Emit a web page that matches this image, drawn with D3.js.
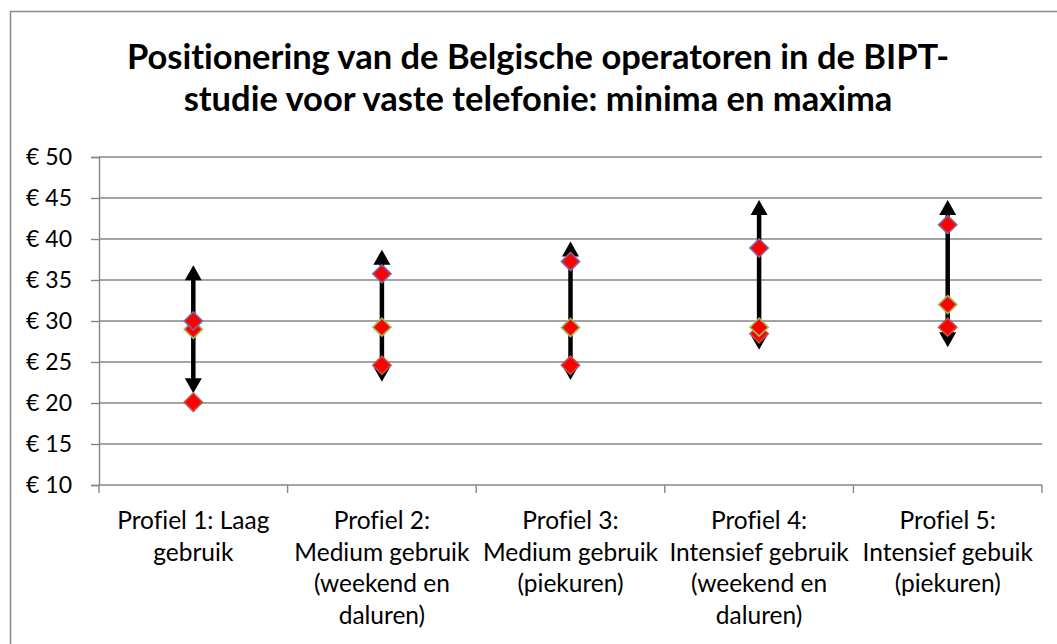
<!DOCTYPE html>
<html>
<head>
<meta charset="utf-8">
<script src="https://cdn.jsdelivr.net/npm/d3@7"></script>
<style>
  body { margin: 0; background: #fff; }
  text { font-family: Lato, "Open Sans", sans-serif; fill: #000; font-variant-ligatures: none; }
</style>
</head>
<body>
<div id="chart"></div>
<script>
// category labels (already broken into lines as in the picture)
const categories = [
  ["Profiel 1: Laag", "gebruik"],
  ["Profiel 2:", "Medium gebruik", "(weekend en", "daluren)"],
  ["Profiel 3:", "Medium gebruik", "(piekuren)"],
  ["Profiel 4:", "Intensief gebruik", "(weekend en", "daluren)"],
  ["Profiel 5:", "Intensief gebuik", "(piekuren)"]
];
const titleLines = [
  "Positionering van de Belgische operatoren in de BIPT-",
  "studie voor vaste telefonie: minima en maxima"
];
const yTicks = [10, 15, 20, 25, 30, 35, 40, 45, 50];

// range of the study (arrow ends)
const rangeMax = [36.8, 38.7, 39.7, 44.75, 44.75];
const rangeMin = [21.2, 22.6, 22.8, 26.5, 26.8];

// three operator series (red filled diamonds, different borders)
const seriesRed = [20.1, 24.6, 24.6, 28.45, 29.25];
const seriesGreen = [29.0, 29.25, 29.2, 29.25, 32.0];
const seriesPurple = [30.0, 35.75, 37.25, 38.9, 41.75];

const W = 1057, H = 644;
const margin = {top: 157, right: 15, bottom: 159, left: 99};

const svg = d3.select("#chart").append("svg")
  .attr("width", W)
  .attr("height", H);

// outer chart frame
svg.append("rect")
  .attr("x", 10.5).attr("y", 11.5)
  .attr("width", 1070).attr("height", 660)
  .attr("fill", "#fff")
  .attr("stroke", "#888")
  .attr("stroke-width", 1.5);

// title
svg.append("g").selectAll("text")
  .data(titleLines)
  .join("text")
  .attr("x", 538)
  .attr("y", (d, i) => 69 + i * 42)
  .attr("text-anchor", "middle")
  .style("font-size", "34.5px")
  .style("font-weight", "bold")
  .text(d => d);

const x = d3.scaleBand()
  .domain(d3.range(categories.length))
  .range([margin.left, W - margin.right])
  .padding(0);

const y = d3.scaleLinear()
  .domain([10, 50])
  .range([H - margin.bottom, margin.top]);

const grey = "#868686";

// gridlines
svg.append("g").selectAll("line")
  .data(yTicks.slice(1))
  .join("line")
  .attr("x1", margin.left).attr("x2", W - margin.right)
  .attr("y1", d => y(d)).attr("y2", d => y(d))
  .attr("stroke", grey)
  .attr("stroke-width", 1.4);

// y axis
const yAxis = svg.append("g")
  .attr("transform", `translate(${margin.left},0)`)
  .call(d3.axisLeft(y).tickValues(yTicks).tickSize(8).tickPadding(19)
    .tickFormat(d => "€ " + d));
yAxis.select(".domain").attr("stroke", grey).attr("stroke-width", 1.4);
yAxis.selectAll(".tick line").attr("stroke", grey).attr("stroke-width", 1.4);
yAxis.selectAll(".tick text")
  .style("font-size", "23px")
  .style("font-family", "Lato, sans-serif")
  .attr("fill", "#000");

// x axis
const xTickPos = d3.range(categories.length + 1).map(i => i < categories.length ? x(i) : x.range()[1]);
const xAxis = svg.append("g")
  .attr("transform", `translate(0,${y(10)})`);
xAxis.append("line")
  .attr("x1", margin.left).attr("x2", W - margin.right)
  .attr("stroke", grey).attr("stroke-width", 1.4);
xAxis.selectAll(".xt")
  .data(xTickPos)
  .join("line")
  .attr("class", "xt")
  .attr("x1", d => d).attr("x2", d => d)
  .attr("y1", 0).attr("y2", 8)
  .attr("stroke", grey).attr("stroke-width", 1.4);

const labels = xAxis.selectAll(".xl")
  .data(categories)
  .join("text")
  .attr("class", "xl")
  .attr("text-anchor", "middle")
  .style("font-size", "24.5px");
labels.selectAll("tspan")
  .data((d, i) => d.map(t => ({t, i})))
  .join("tspan")
  .attr("x", d => x(d.i) + x.bandwidth() / 2)
  .attr("y", (d, j) => 44 + j * 31.5)
  .text(d => d.t);

// arrows: stem + heads
const head = 15, halfW = 8.5;
const arrows = svg.append("g");
const idx = d3.range(categories.length);
arrows.selectAll(".stem")
  .data(idx)
  .join("line")
  .attr("class", "stem")
  .attr("x1", i => x(i) + x.bandwidth() / 2)
  .attr("x2", i => x(i) + x.bandwidth() / 2)
  .attr("y1", i => y(rangeMax[i]) + head - 2)
  .attr("y2", i => y(rangeMin[i]) - head + 2)
  .attr("stroke", "#000")
  .attr("stroke-width", 4.5);
arrows.selectAll(".up")
  .data(idx)
  .join("path")
  .attr("class", "up")
  .attr("d", i => {
    const cx = x(i) + x.bandwidth() / 2, t = y(rangeMax[i]);
    return `M${cx},${t}L${cx - halfW},${t + head}L${cx + halfW},${t + head}Z`;
  })
  .attr("fill", "#000");
arrows.selectAll(".down")
  .data(idx)
  .join("path")
  .attr("class", "down")
  .attr("d", i => {
    const cx = x(i) + x.bandwidth() / 2, t = y(rangeMin[i]);
    return `M${cx},${t}L${cx - halfW},${t - head}L${cx + halfW},${t - head}Z`;
  })
  .attr("fill", "#000");

// diamonds
const diamond = d3.symbol().type(d3.symbolSquare).size(165);
const series = [
  {values: seriesRed, stroke: "#c0504d"},
  {values: seriesGreen, stroke: "#9bbb59"},
  {values: seriesPurple, stroke: "#8064a2"}
];
series.forEach(s => {
  svg.append("g").selectAll("path")
    .data(s.values)
    .join("path")
    .attr("d", diamond)
    .attr("transform", (d, i) => `translate(${x(i) + x.bandwidth() / 2},${y(d)}) rotate(45)`)
    .attr("fill", "#ff0000")
    .attr("stroke", s.stroke)
    .attr("stroke-width", 1.6);
});
</script>
</body>
</html>
